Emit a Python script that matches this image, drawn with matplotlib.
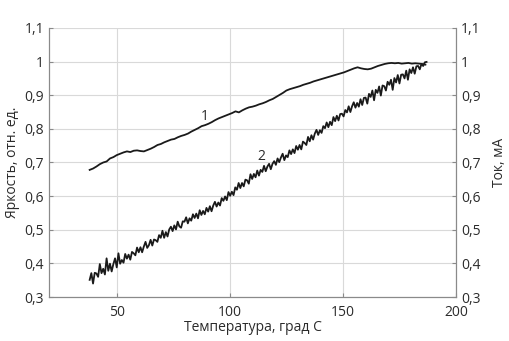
import numpy as np
import matplotlib
matplotlib.use('Agg')
import matplotlib.pyplot as plt
plt.rc('font', family=['Open Sans', 'DejaVu Sans'])

# curve 1: brightness, rel. units (sampled every 1.5 deg from 38 deg)
brightness = [
    0.678, 0.682, 0.688, 0.695, 0.700, 0.703, 0.712, 0.716, 0.722, 0.726,
    0.730, 0.733, 0.731, 0.735, 0.736, 0.734, 0.733, 0.737, 0.741, 0.746,
    0.752, 0.755, 0.760, 0.764, 0.768, 0.770, 0.775, 0.779, 0.782, 0.786,
    0.792, 0.797, 0.802, 0.808, 0.811, 0.815, 0.820, 0.826, 0.831, 0.835,
    0.839, 0.843, 0.847, 0.852, 0.849, 0.855, 0.860, 0.864, 0.866, 0.869,
    0.873, 0.876, 0.880, 0.885, 0.889, 0.895, 0.901, 0.907, 0.914, 0.918,
    0.921, 0.924, 0.927, 0.931, 0.934, 0.937, 0.941, 0.944, 0.947, 0.950,
    0.953, 0.956, 0.959, 0.962, 0.965, 0.968, 0.972, 0.976, 0.980, 0.983,
    0.980, 0.978, 0.977, 0.979, 0.983, 0.987, 0.990, 0.993, 0.995, 0.996,
    0.995, 0.996, 0.994, 0.995, 0.996, 0.994, 0.995, 0.994, 0.993, 0.991,
]

# curve 2: current, mA (200 samples from 38 to 187 deg)
current = [
    0.351, 0.371, 0.340, 0.372, 0.370, 0.360, 0.398, 0.371, 0.384, 0.367,
    0.415, 0.378, 0.399, 0.376, 0.398, 0.415, 0.388, 0.430, 0.399, 0.410,
    0.402, 0.428, 0.414, 0.426, 0.411, 0.434, 0.430, 0.424, 0.447, 0.433,
    0.448, 0.433, 0.450, 0.464, 0.446, 0.454, 0.470, 0.453, 0.471, 0.469,
    0.464, 0.484, 0.476, 0.497, 0.476, 0.493, 0.480, 0.501, 0.509, 0.496,
    0.513, 0.501, 0.524, 0.510, 0.506, 0.525, 0.524, 0.537, 0.519, 0.534,
    0.527, 0.546, 0.535, 0.548, 0.534, 0.558, 0.544, 0.556, 0.546, 0.565,
    0.554, 0.570, 0.555, 0.572, 0.583, 0.569, 0.581, 0.572, 0.594, 0.586,
    0.599, 0.588, 0.612, 0.601, 0.613, 0.603, 0.626, 0.619, 0.639, 0.624,
    0.639, 0.629, 0.649, 0.647, 0.637, 0.665, 0.651, 0.666, 0.656, 0.676,
    0.661, 0.678, 0.672, 0.690, 0.674, 0.688, 0.696, 0.680, 0.696, 0.704,
    0.693, 0.712, 0.701, 0.715, 0.726, 0.707, 0.721, 0.716, 0.736, 0.725,
    0.739, 0.728, 0.749, 0.738, 0.752, 0.739, 0.762, 0.758, 0.752, 0.776,
    0.763, 0.781, 0.768, 0.786, 0.797, 0.782, 0.796, 0.788, 0.808, 0.802,
    0.819, 0.805, 0.821, 0.811, 0.835, 0.823, 0.839, 0.825, 0.844, 0.845,
    0.837, 0.856, 0.849, 0.867, 0.850, 0.867, 0.879, 0.863, 0.877, 0.866,
    0.888, 0.871, 0.892, 0.893, 0.875, 0.904, 0.895, 0.914, 0.885, 0.916,
    0.907, 0.926, 0.899, 0.929, 0.927, 0.914, 0.940, 0.931, 0.946, 0.916,
    0.951, 0.938, 0.960, 0.935, 0.961, 0.962, 0.950, 0.973, 0.946, 0.977,
    0.966, 0.983, 0.964, 0.986, 0.987, 0.977, 0.993, 0.987, 0.998, 0.999,
]

temp1 = np.linspace(38, 186.5, len(brightness))
temp2 = np.linspace(38, 187, len(current))

y_ticks = [0.3, 0.4, 0.5, 0.6, 0.7, 0.8, 0.9, 1.0, 1.1]
y_labels = ['0,3', '0,4', '0,5', '0,6', '0,7', '0,8', '0,9', '1', '1,1']
x_ticks = [50, 100, 150, 200]

text_col = '#2b2b2b'
spine_col = '#8a8a8a'
grid_col = '#d9d9d9'

fig = plt.figure(figsize=(5.1, 3.41), dpi=100)
ax1 = fig.add_subplot(1, 1, 1)
fig.subplots_adjust(left=0.096, right=0.894, top=0.918, bottom=0.129)

ax1.plot(temp1, brightness, color='#1a1a1a', lw=1.3)
ax1.plot(temp2, current, color='#1a1a1a', lw=1.3)
ax1.text(89, 0.838, '1', fontsize=10, color=text_col, ha='center', va='center')
ax1.text(114, 0.718, '2', fontsize=10, color=text_col, ha='center', va='center')

ax1.set_xlim(20, 200)
ax1.set_ylim(0.3, 1.1)
ax1.set_xticks(x_ticks)
ax1.set_yticks(y_ticks)
ax1.set_yticklabels(y_labels)
ax1.grid(True, color=grid_col, lw=0.8)
ax1.set_axisbelow(True)
ax1.tick_params(direction='in', length=3, colors=spine_col, labelcolor=text_col,
                labelsize=10)
ax1.tick_params(axis='x', pad=6)
ax1.set_xlabel('Температура, град С', fontsize=10, color=text_col, labelpad=0)
ax1.set_ylabel('Яркость, отн. ед.', fontsize=10, color=text_col, labelpad=3)

ax2 = ax1.twinx()
ax2.set_ylim(0.3, 1.1)
ax2.set_yticks(y_ticks)
ax2.set_yticklabels(y_labels)
ax2.tick_params(direction='in', length=3, colors=spine_col, labelcolor=text_col,
                labelsize=10)
ax2.set_ylabel('Ток, мА', fontsize=10, color=text_col, rotation=90, labelpad=8)

for ax in (ax1, ax2):
    ax.spines['top'].set_visible(False)
    for s in ('left', 'right', 'bottom'):
        ax.spines[s].set_color(spine_col)

plt.savefig('out.png', dpi=100)
plt.close()
